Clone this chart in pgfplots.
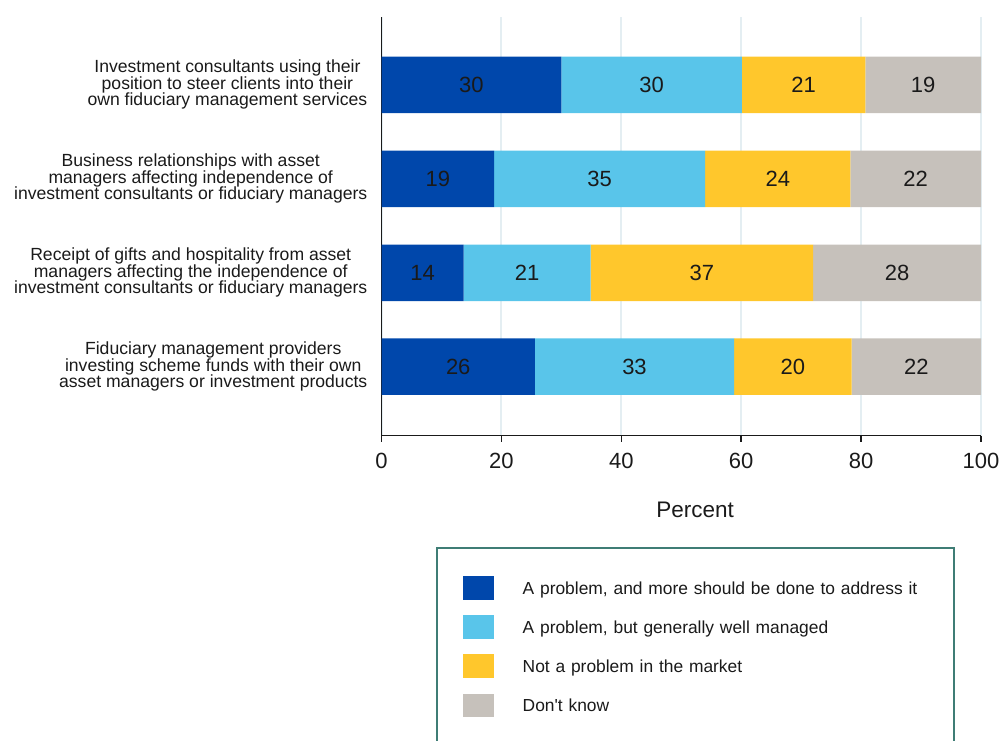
\documentclass[border=0pt]{standalone}
\usepackage{fontspec}
\setmainfont{Liberation Sans}[Ligatures=TeXOff]
\usepackage{pgfplots}
\usepackage{pgfplotstable}
\pgfplotsset{compat=1.18}

\definecolor{cDark}{HTML}{0047AB}
\definecolor{cLight}{HTML}{59C5EA}
\definecolor{cYellow}{HTML}{FFC72C}
\definecolor{cGrey}{HTML}{C6C1BB}
\definecolor{gridc}{HTML}{E4EEF2}
\definecolor{legc}{HTML}{3F7D75}
\definecolor{txt}{HTML}{1A1A1A}

% shares (percent); pos 4 = top row
\pgfplotstableread{
pos a b c d
4 30.0 30.1 20.6 19.3
3 18.8 35.2 24.2 21.8
2 13.7 21.2 37.1 28.0
1 25.6 33.2 19.6 21.6
}\data

% segment label positions (segment midpoints) and shown values
\pgfplotstableread{
x y lab
15.0 4 30
45.05 4 30
70.4 4 21
90.35 4 19
9.4 3 19
36.4 3 35
66.1 3 24
89.1 3 22
6.85 2 14
24.3 2 21
53.45 2 37
86.0 2 28
12.8 1 26
42.2 1 33
68.6 1 20
89.2 1 22
}\labels

\begin{document}
\begin{tikzpicture}
\begin{axis}[
  at={(381.5pt,-435.5pt)}, anchor=south west,
  width=599.5pt, height=418.5pt, scale only axis,
  xbar stacked, bar width=56.5pt,
  every axis plot post/.append style={/pgfplots/legend image code/.code={\fill[##1] (0pt,-11.8pt) rectangle (31.6pt,11.8pt);}},
  xmin=0, xmax=100, ymin=0.268, ymax=4.7215,
  axis x line=bottom, axis y line=left,
  axis line style={-, line width=1.5pt, color=txt},
  xtick={0,20,40,60,80,100},
  tick align=outside, major tick length=6pt,
  x tick style={line width=1.5pt, color=txt},
  y tick style={draw=none},
  xmajorgrids, grid style={gridc, line width=2pt},
  /pgf/number format/assume math mode=true,
  xticklabel style={font=\fontsize{22}{24}\selectfont, text=txt, inner sep=0pt, anchor=north, yshift=-11pt},
  ytick={1,2,3,4},
  yticklabels={
    {Fiduciary management providers\\investing scheme funds with their own\\asset managers or investment products},
    {Receipt of gifts and hospitality from asset\\managers affecting the independence of\\investment consultants or fiduciary managers},
    {Business relationships with asset\\managers affecting independence of\\investment consultants or fiduciary managers},
    {Investment consultants using their\\position to steer clients into their\\own fiduciary management services}},
  yticklabel style={font=\fontsize{17.6}{16.5}\selectfont, text=txt, align=center, anchor=east, inner sep=0pt, xshift=-8pt},
  xlabel={Percent},
  xlabel style={font=\fontsize{22.5}{24}\selectfont, text=txt, at={(axis description cs:0.523,-0.195)}, anchor=base},
  legend cell align=left,
  legend style={at={(axis description cs:0.0909,-0.2652)}, anchor=north west,
    draw=legc, line width=2pt, inner xsep=25.7pt, inner ysep=28.7pt,
    row sep=15.5pt, column sep=28.4pt,
    font=\fontsize{17.4}{20}\selectfont, text=txt,
    nodes={inner sep=0pt, text width=406pt, text height=13pt, text depth=0pt}},
]
\addplot[fill=cDark, draw=none] table[x=a, y=pos] {\data};
\addlegendentry{A problem, and more should be done to address it}
\addplot[fill=cLight, draw=none] table[x=b, y=pos] {\data};
\addlegendentry{A problem, but generally well managed}
\addplot[fill=cYellow, draw=none] table[x=c, y=pos] {\data};
\addlegendentry{Not a problem in the market}
\addplot[fill=cGrey, draw=none] table[x=d, y=pos] {\data};
\addlegendentry{Don't know}
\end{axis}
\begin{axis}[
  at={(381.5pt,-435.5pt)}, anchor=south west,
  width=599.5pt, height=418.5pt, scale only axis,
  xmin=0, xmax=100, ymin=0.268, ymax=4.7215,
  hide axis,
]
\addplot[only marks, mark=none, draw=none,
  nodes near coords, point meta=explicit symbolic,
  every node near coord/.append style={anchor=center, font=\fontsize{22}{24}\selectfont, text=txt, inner sep=0pt}]
  table[x=x, y=y, meta=lab] {\labels};
\end{axis}
\pgfresetboundingbox
\useasboundingbox (0pt,0pt) rectangle (1000pt,-740pt);
\end{tikzpicture}
\end{document}
